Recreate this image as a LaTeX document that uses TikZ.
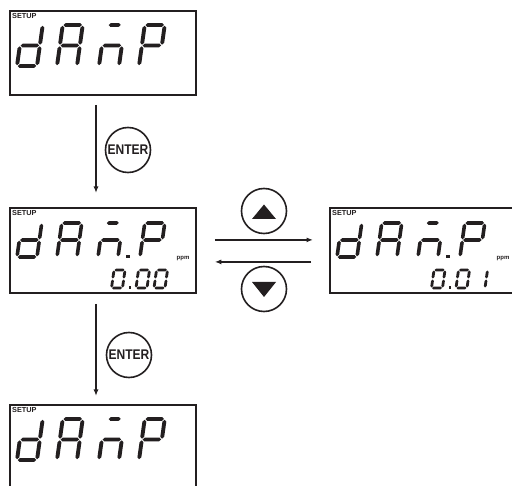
\documentclass[tikz,border=0pt]{standalone}
\usepackage{fontspec}
\setmainfont{Liberation Sans}
\usetikzlibrary{arrows.meta}
\definecolor{ink}{RGB}{35,31,32}
% seven-segment helpers
\newcommand\segH[1]{\fill[ink] ({\sg},{#1}) -- ({\sg+\st/2},{#1+\st/2}) -- ({\sW-\sg-\st/2},{#1+\st/2}) -- ({\sW-\sg},{#1}) -- ({\sW-\sg-\st/2},{#1-\st/2}) -- ({\sg+\st/2},{#1-\st/2}) -- cycle;}
\newcommand\segV[3]{\fill[ink] ({#1},{#2+\sg}) -- ({#1+\st/2},{#2+\sg+\st/2}) -- ({#1+\st/2},{#3-\sg-\st/2}) -- ({#1},{#3-\sg}) -- ({#1-\st/2},{#3-\sg-\st/2}) -- ({#1-\st/2},{#2+\sg+\st/2}) -- cycle;}
\newcommand\dsega{\segH{\sH}}
\newcommand\dsegb{\segV{\sW}{\sH/2}{\sH}}
\newcommand\dsegc{\segV{\sW}{0}{\sH/2}}
\newcommand\dsegd{\segH{0}}
\newcommand\dsege{\segV{0}{0}{\sH/2}}
\newcommand\dsegf{\segV{0}{\sH/2}{\sH}}
\newcommand\dsegg{\segH{\sH/2}}
\newcommand\dsegm{\fill[ink] ({0.2*\sW},{\sH}) -- ({0.2*\sW+\st/2},{\sH+\st/2}) -- ({0.8*\sW-\st/2},{\sH+\st/2}) -- ({0.8*\sW},{\sH}) -- ({0.8*\sW-\st/2},{\sH-\st/2}) -- ({0.2*\sW+\st/2},{\sH-\st/2}) -- cycle;}
\newcommand\lcddigit[6]{%
  \begin{scope}[shift={(#1,#2)},x=1pt,y=1pt,xslant=0.14]
    \def\sW{#3}\def\sH{#4}\def\st{#5}\pgfmathsetmacro\sg{#5*0.2}
    \foreach \s in {#6}{\csname dseg\s\endcsname}
  \end{scope}}
\newcommand\bigword[3]{% x offset, y baseline, H : dAmP
  \lcddigit{#1+17}{#2}{20}{#3}{3.9}{b,c,d,e,g}
  \lcddigit{#1+57}{#2}{20}{#3}{3.9}{a,b,c,e,f,g}
  \lcddigit{#1+99}{#2}{20}{#3}{3.9}{m,g,c,e}
  \lcddigit{#1+139}{#2}{20}{#3}{3.9}{a,b,e,f,g}}
\begin{document}
\begin{tikzpicture}[x=1pt,y=-1pt,
  lcd/.style={draw=ink,line width=1.8pt,rectangle,minimum width=186pt,anchor=north west,inner sep=0pt},
  btn/.style={draw=ink,line width=1.6pt,circle,minimum size=45pt,inner sep=0pt},
  arr/.style={draw=ink,line width=1.5pt,-{Latex[length=6.5pt,width=5pt]}},
  tag/.style={font=\bfseries\fontsize{7.3}{7.3}\selectfont,text=ink,inner sep=0pt,anchor=west},
  unit/.style={font=\bfseries\fontsize{6}{6}\selectfont,text=ink,inner sep=0pt}]
\clip (0,0) rectangle (512,486);
\fill[white] (0,0) rectangle (512,486);
% boxes
\node[lcd,minimum height=84pt] (box1) at (9,10) {};
\node[lcd,minimum height=85pt] (box2) at (9,207) {};
\node[lcd,minimum height=85pt] (box3) at (329,207) {};
\node[lcd,minimum height=95pt] (box4) at (9,404) {};
% labels
\node[tag] (s1) at (12,15.5) {SETUP};
\node[tag] (s2) at (12,212.5) {SETUP};
\node[tag] (s3) at (332,212.5) {SETUP};
\node[tag] (s4) at (12,409.5) {SETUP};
\node[unit] (u2) at (183,259) {ppm};
\node[unit] (u3) at (503,259) {ppm};
% displays
\bigword{0}{66}{41}
\bigword{0}{460}{41}
% box 2 main
\lcddigit{17}{257}{20}{34}{3.6}{b,c,d,e,g}
\lcddigit{57}{257}{20}{34}{3.6}{a,b,c,e,f,g}
\lcddigit{98}{257}{20}{34}{3.6}{m,g,c,e}
\lcddigit{140}{257}{20}{34}{3.6}{a,b,e,f,g}
\fill[ink] (126,255) rectangle (129.5,258.5);
\lcddigit{111.5}{288}{11}{18}{2.8}{a,b,c,d,e,f}
\fill[ink] (128.5,286) rectangle (131.3,288.8);
\lcddigit{136}{288}{11}{18}{2.8}{a,b,c,d,e,f}
\lcddigit{154}{288}{11}{18}{2.8}{a,b,c,d,e,f}
% box 3 main
\lcddigit{337}{257}{20}{34}{3.6}{b,c,d,e,g}
\lcddigit{377}{257}{20}{34}{3.6}{a,b,c,e,f,g}
\lcddigit{418}{257}{20}{34}{3.6}{m,g,c,e}
\lcddigit{460}{257}{20}{34}{3.6}{a,b,e,f,g}
\fill[ink] (446,255) rectangle (449.5,258.5);
\lcddigit{431.5}{288}{11}{18}{2.8}{a,b,c,d,e,f}
\fill[ink] (448.5,286) rectangle (451.3,288.8);
\lcddigit{456}{288}{11}{18}{2.8}{a,b,c,d,e,f}
\lcddigit{474}{288}{11}{18}{2.8}{b,c}
% buttons
\node[btn] (en1) at (128,150) {\scalebox{0.86}[1]{\textcolor{ink}{\bfseries\fontsize{14}{14}\selectfont ENTER}}};
\node[btn] (en2) at (129,355) {\scalebox{0.86}[1]{\textcolor{ink}{\bfseries\fontsize{14}{14}\selectfont ENTER}}};
\node[btn] (up) at (264,211) {};
\node[btn] (dn) at (264,289) {};
\fill[ink] ([shift={(-12,8)}]up.center) -- ([shift={(12,8)}]up.center) -- ([shift={(0,-6.5)}]up.center) -- cycle;
\fill[ink] ([shift={(-12,-7)}]dn.center) -- ([shift={(12,-7)}]dn.center) -- ([shift={(0,8)}]dn.center) -- cycle;
% connectors
\draw[arr] ([xshift=87pt,yshift=-9pt]box1.south west) -- ([xshift=87pt,yshift=14pt]box2.north west);
\draw[arr] ([xshift=87pt,yshift=-10pt]box2.south west) -- ([xshift=87pt,yshift=8pt]box4.north west);
\draw[arr] ([xshift=18pt,yshift=10.5pt]box2.east) -- ([xshift=-16pt,yshift=10.5pt]box3.west);
\draw[arr] ([xshift=-18pt,yshift=-11.5pt]box3.west) -- ([xshift=18pt,yshift=-11.5pt]box2.east);
\end{tikzpicture}
\end{document}
